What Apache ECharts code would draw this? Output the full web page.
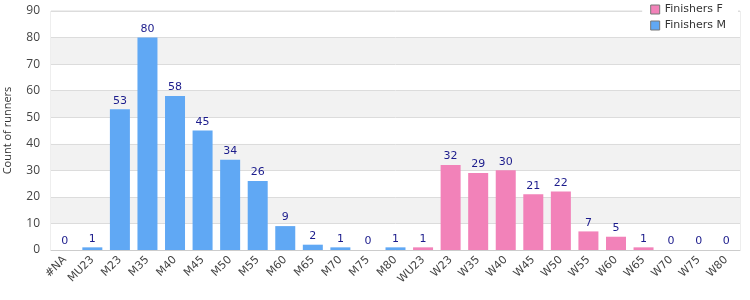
<!DOCTYPE html>
<html>
<head>
<meta charset="utf-8">
<title>Finishers</title>
<script src="https://cdn.jsdelivr.net/npm/echarts@6/dist/echarts.min.js"></script>
<style>html,body{margin:0;padding:0;background:#fff;}</style>
</head>
<body>
<div id="main" style="width:750px;height:300px;"></div>
<script>
// age categories
var categories = ['#NA','MU23','M23','M35','M40','M45','M50','M55','M60','M65','M70','M75','M80',
                  'WU23','W23','W35','W40','W45','W50','W55','W60','W65','W70','W75','W80'];
// '-' = no bar for that series
var finishersM = [0,1,53,80,58,45,34,26,9,2,1,0,1,'-','-','-','-','-','-','-','-','-','-','-','-'];
var finishersF = ['-','-','-','-','-','-','-','-','-','-','-','-','-',1,32,29,30,21,22,7,5,1,0,0,0];

var font = 'DejaVu Sans';
var myChart = echarts.init(document.getElementById('main'));

var valLabel = {
    show: true,
    position: 'top',
    distance: 3,
    color: '#1c1c8c',
    fontFamily: font,
    fontSize: 11
};

var option = {
    animation: false,
    grid: {
        left: 51, right: 10, top: 11, bottom: 50,
        outerBoundsMode: 'none',
        show: true, borderColor: '#dcdcdc', borderWidth: 1
    },
    legend: {
        orient: 'vertical',
        right: 12,
        top: 2,
        itemGap: 5,
        itemWidth: 9,
        itemHeight: 9,
        icon: 'rect',
        backgroundColor: '#fff',
        padding: [2, 12, 2, 8],
        textStyle: { fontFamily: font, fontSize: 11, color: '#333' },
        itemStyle: { borderColor: '#777', borderWidth: 1 },
        data: ['Finishers F', 'Finishers M']
    },
    xAxis: {
        type: 'category',
        data: categories,
        axisLine: { lineStyle: { color: '#ccc' } },
        axisTick: { show: false },
        axisLabel: { rotate: 45, interval: 0, color: '#444', fontFamily: font, fontSize: 11, margin: 8 }
    },
    yAxis: {
        type: 'value',
        min: 0,
        max: 90,
        interval: 10,
        name: 'Count of runners',
        nameLocation: 'middle',
        nameGap: 38,
        nameTextStyle: { color: '#333', fontFamily: 'Open Sans', fontSize: 11 },
        axisLabel: { color: '#444', fontFamily: 'Open Sans', fontSize: 12, margin: 11 },
        splitLine: { lineStyle: { color: '#dcdcdc' } },
        splitArea: { show: true, areaStyle: { color: ['#ffffff', '#f2f2f2'] } }
    },
    series: [
        {
            name: 'Finishers M',
            type: 'bar',
            stack: 'a',
            barWidth: 20,
            data: finishersM,
            itemStyle: { color: '#60a8f4' },
            label: valLabel
        },
        {
            name: 'Finishers F',
            type: 'bar',
            stack: 'a',
            barWidth: 20,
            data: finishersF,
            itemStyle: { color: '#f282b9' },
            label: valLabel
        }
    ]
};

myChart.setOption(option);
</script>
</body>
</html>
